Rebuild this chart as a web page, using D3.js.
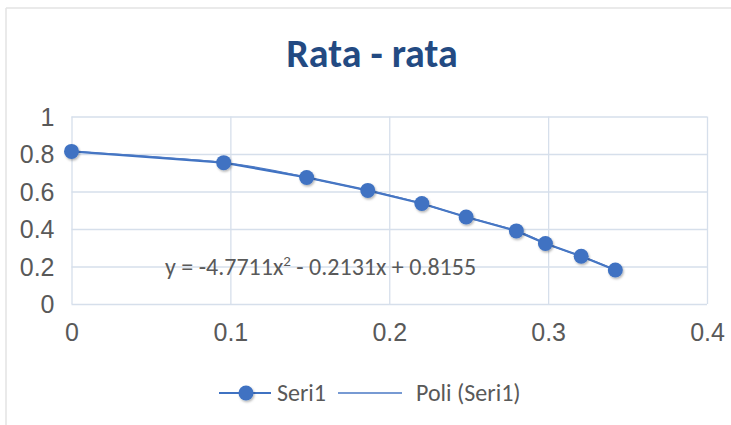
<!DOCTYPE html>
<html>
<head>
<meta charset="utf-8">
<script src="https://cdn.jsdelivr.net/npm/d3@7"></script>
<style>
  body { margin: 0; background: #fff; }
  svg { display: block; font-family: Carlito, Lato, "Open Sans", sans-serif; }
</style>
</head>
<body>
<div class="chart"></div>
<script>
"use strict";

// DATA ----------------------------------
const xValues = [0, 0.0958, 0.148, 0.1865, 0.2205, 0.2484, 0.28, 0.2983, 0.3208, 0.3423];
const yValues = [0.814, 0.754, 0.675, 0.606, 0.536, 0.464, 0.39, 0.323, 0.255, 0.181];
const xTicks = [0, 0.1, 0.2, 0.3, 0.4];
const yTicks = [0, 0.2, 0.4, 0.6, 0.8, 1];
const xTickLabels = ["0", "0.1", "0.2", "0.3", "0.4"];
const yTickLabels = ["0", "0.2", "0.4", "0.6", "0.8", "1"];
const TITLE = "Rata - rata";
const SERIES = "Seri1";
const TREND = "Poli (Seri1)";

const W = 731, H = 425;
const MARGIN = { top: 116.5, right: 24, bottom: 121, left: 71.5 };
const WIDTH = W - MARGIN.left - MARGIN.right,
  HEIGHT = H - MARGIN.top - MARGIN.bottom;
const BLUE = "#3f72c2";
const GRID = "#d6dfeb";
const TEXT = "#595959";

const root = d3.select(".chart").append("svg").attr("width", W).attr("height", H);

// shadow for markers
root.append("defs").append("filter")
  .attr("id", "shadow").attr("x", "-50%").attr("y", "-50%").attr("width", "200%").attr("height", "200%")
  .append("feDropShadow")
  .attr("dx", 1).attr("dy", 1.5).attr("stdDeviation", 1.2)
  .attr("flood-color", "#000").attr("flood-opacity", 0.3);

// chart frame (only top and left edges show)
root.append("line").attr("x1", 6).attr("x2", W).attr("y1", 8).attr("y2", 8)
  .attr("stroke", "#e3e3e3").attr("stroke-width", 1.5);
root.append("line").attr("x1", 6).attr("x2", 6).attr("y1", 8).attr("y2", H)
  .attr("stroke", "#e3e3e3").attr("stroke-width", 1.5);

root.append("text")
  .attr("x", 372).attr("y", 67)
  .attr("text-anchor", "middle")
  .attr("font-size", 40).attr("font-weight", "bold")
  .attr("fill", "#234a82")
  .text(TITLE);

const svg = root.append("g")
  .attr("transform", `translate(${MARGIN.left},${MARGIN.top})`);

const xScale = d3.scaleLinear().domain([0, 0.4]).range([0, WIDTH]);
const yScale = d3.scaleLinear().domain([0, 1]).range([HEIGHT, 0]);

// Axes + grid
const xAxis = d3.axisBottom(xScale)
  .tickValues(xTicks)
  .tickSize(-HEIGHT)
  .tickPadding(19)
  .tickFormat((d, i) => xTickLabels[i]);
const yAxis = d3.axisLeft(yScale)
  .tickValues(yTicks)
  .tickSize(-WIDTH)
  .tickPadding(17)
  .tickFormat((d, i) => yTickLabels[i]);

const xGroup = svg.append("g").attr("transform", `translate(0,${HEIGHT})`).call(xAxis);
const yGroup = svg.append("g").call(yAxis);

[xGroup, yGroup].forEach((g) => {
  g.select(".domain").remove();
  g.selectAll(".tick line").attr("stroke", GRID).attr("stroke-width", 1.3);
  g.selectAll(".tick text").attr("fill", TEXT).attr("font-size", 25).attr("font-family", null);
});
xGroup.selectAll(".tick text").attr("dy", "0.71em");
yGroup.selectAll(".tick text").attr("dy", "0.34em");

const points = xValues.map((x, i) => ({ x: x, y: yValues[i] }));

// series line
const line = d3.line().x((d) => xScale(d.x)).y((d) => yScale(d.y));
svg.append("path")
  .datum(points)
  .attr("fill", "none")
  .attr("stroke", BLUE)
  .attr("stroke-width", 2.2)
  .attr("d", line);

// trend line (smooth)
const trend = d3.line().curve(d3.curveNatural).x((d) => xScale(d.x)).y((d) => yScale(d.y));
svg.append("path")
  .datum(points)
  .attr("fill", "none")
  .attr("stroke", "#4a78c4")
  .attr("stroke-width", 1.4)
  .attr("d", trend);

// markers
svg.selectAll("circle.pt")
  .data(points)
  .enter()
  .append("circle")
  .attr("class", "pt")
  .attr("cx", (d) => xScale(d.x))
  .attr("cy", (d) => yScale(d.y))
  .attr("r", 7.5)
  .attr("fill", BLUE)
  .attr("filter", "url(#shadow)");

// trendline equation
const eq = root.append("text")
  .attr("x", 165).attr("y", 275)
  .attr("font-size", 24)
  .attr("fill", TEXT);
eq.append("tspan").text("y = -4.7711x");
eq.append("tspan").attr("font-size", 15).attr("dy", -9).text("2");
eq.append("tspan").attr("dy", 9).text(" - 0.2131x + 0.8155");

// legend
const leg = root.append("g").attr("transform", "translate(0,393)");
leg.append("line").attr("x1", 219).attr("x2", 271).attr("stroke", BLUE).attr("stroke-width", 2.2);
leg.append("circle").attr("cx", 246).attr("r", 7.5).attr("fill", BLUE).attr("filter", "url(#shadow)");
leg.append("text").attr("x", 277).attr("dy", "0.34em").attr("font-size", 24).attr("fill", TEXT).text(SERIES);
leg.append("line").attr("x1", 338).attr("x2", 402).attr("stroke", "#4a78c4").attr("stroke-width", 1.4);
leg.append("text").attr("x", 416).attr("dy", "0.34em").attr("font-size", 24).attr("fill", TEXT).text(TREND);
</script>
</body>
</html>
